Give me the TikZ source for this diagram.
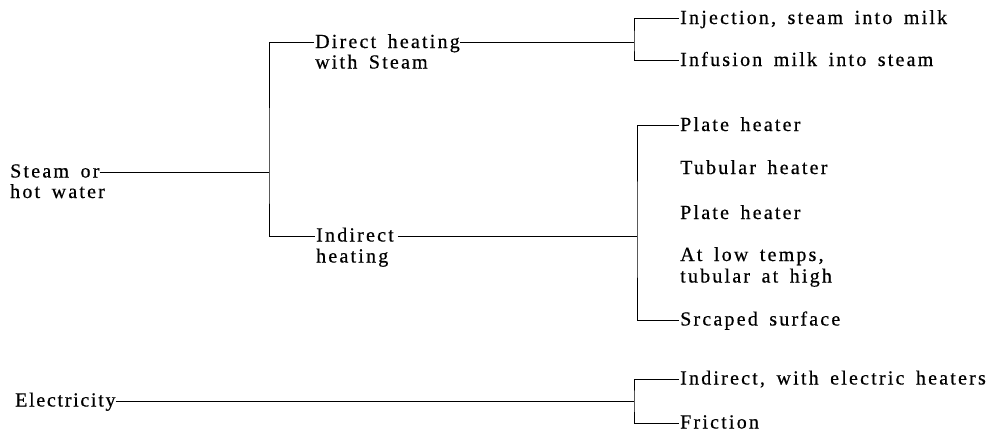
\documentclass[tikz,border=0pt]{standalone}
\usepackage{fontspec}
\setmainfont{Liberation Serif}[LetterSpace=11,WordSpace=1.6,FakeBold=0.6]
\newfontfamily\elfont{Liberation Serif}[LetterSpace=8.5,FakeBold=0.6]
\usetikzlibrary{calc}
\begin{document}
\begin{tikzpicture}[x=1pt,y=-1pt,
  txt/.style={anchor=base west, inner sep=0pt, font=\fontsize{20}{24}\selectfont},
  eltxt/.style={anchor=base west, inner sep=0pt, font=\elfont\fontsize{20}{24}\selectfont},
  conn/.style={line width=0.7pt, black}]
\useasboundingbox (0,0) rectangle (990,431);
% texts
\node[txt] (steam1) at (10,177.5) {Steam or};
\node[txt] (steam2) at (10,198) {hot water};
\node[txt] (dh1) at (315,48) {Direct heating};
\node[txt] (dh2) at (315,68.5) {with Steam};
\node[txt] (ih1) at (316,241.5) {Indirect};
\node[txt] (ih2) at (316,262.5) {heating};
\node[txt] (inj) at (680,24) {Injection, steam into milk};
\node[txt] (inf) at (680,66) {Infusion milk into steam};
\node[txt] (ph1) at (680,131) {Plate heater};
\node[txt] (tub) at (680,174) {Tubular heater};
\node[txt] (ph2) at (680,219) {Plate heater};
\node[txt] (low1) at (680,261) {At low temps,};
\node[txt] (low2) at (680,282.5) {tubular at high};
\node[txt] (scr) at (680,325.5) {Srcaped surface};
\node[txt] (ie) at (680,384.5) {Indirect, with electric heaters};
\node[txt] (fr) at (680,428.5) {Friction};
\node[eltxt] (el) at (15,406.5) {Electricity};
% connection points
\coordinate (steamR) at ($(steam1.base east)+(0,-5.5)$);
\coordinate (dh1L) at ($(dh1.base west)+(-1,-5.5)$);
\coordinate (dh1R) at ($(dh1.base east)+(0,-5.5)$);
\coordinate (ih1L) at ($(ih1.base west)+(-1,-5.5)$);
\coordinate (ih1R) at ($(ih1.base east)+(4,-5.5)$);
\coordinate (injL) at ($(inj.base west)+(-1,-5.5)$);
\coordinate (infL) at ($(inf.base west)+(-1,-5.5)$);
\coordinate (ph1L) at ($(ph1.base west)+(-1,-5.5)$);
\coordinate (scrL) at ($(scr.base west)+(-1,-5.5)$);
\coordinate (ieL) at ($(ie.base west)+(-1,-5.5)$);
\coordinate (frL) at ($(fr.base west)+(-1,-5.5)$);
\coordinate (elR) at ($(el.base east)+(0,-5.5)$);
% junctions
\coordinate (j1) at (269,172);
\coordinate (j2) at (634,42.5);
\coordinate (j3) at (637,236);
\coordinate (j4) at (634,401);
% connectors
\draw[conn] (steamR) -- (j1);
\draw[conn] (dh1L) -| (j1) |- (ih1L);
\draw[conn] (dh1R) -- (j2);
\draw[conn] (injL) -| (j2) |- (infL);
\draw[conn] (ih1R) -- (j3);
\draw[conn] (ph1L) -| (j3) |- (scrL);
\draw[conn] (elR) -- (j4);
\draw[conn] (ieL) -| (j4) |- (frL);
\end{tikzpicture}
\end{document}
